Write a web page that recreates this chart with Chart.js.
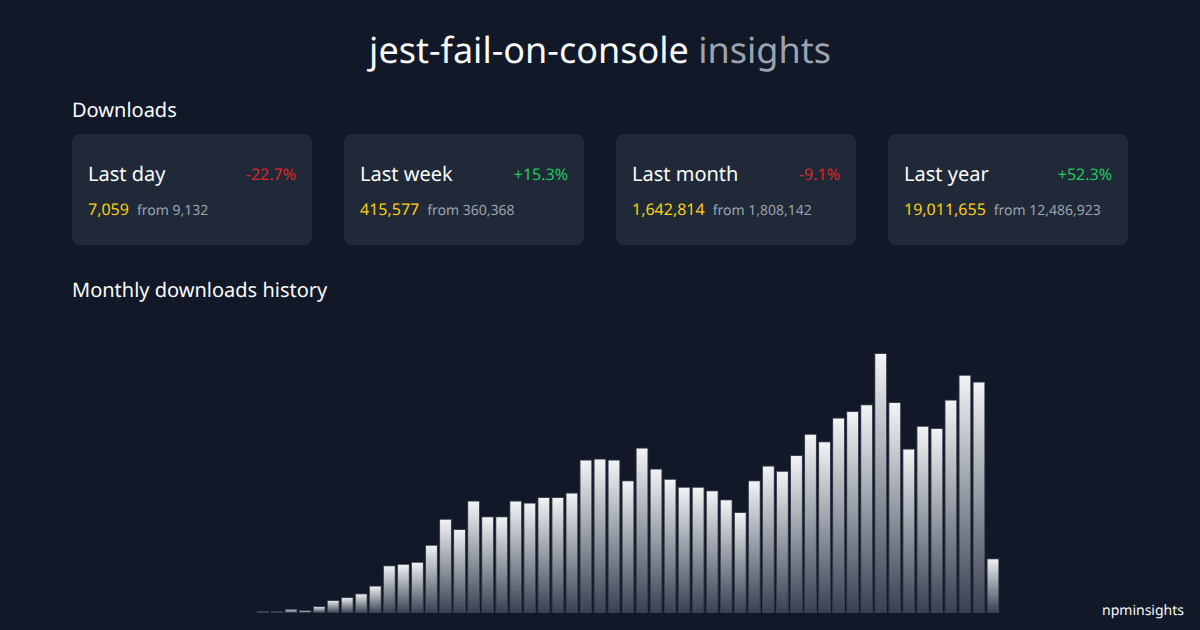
<!DOCTYPE html>
<html>
<head>
<meta charset="utf-8">
<title>jest-fail-on-console insights</title>
<script src="https://cdn.jsdelivr.net/npm/chart.js@4"></script>
<style>
    html, body { margin: 0; padding: 0; }
    body {
        width: 1200px;
        height: 630px;
        position: relative;
        overflow: hidden;
        background: #111827;
        color: #f9fafb;
        font-family: "Noto Sans", sans-serif;
        text-rendering: geometricPrecision;
    }
    .abs { position: absolute; white-space: nowrap; }
    h1 {
        position: absolute;
        left: 0;
        width: 1200px;
        top: 24px;
        margin: 0;
        text-align: center;
        font-size: 36px;
        line-height: 52px;
        font-weight: 400;
    }
    h1 span { color: #9ca3af; }
    h2 {
        position: absolute;
        left: 72px;
        margin: 0;
        font-size: 20px;
        line-height: 28px;
        font-weight: 400;
    }
    .card {
        position: absolute;
        top: 134px;
        width: 240px;
        height: 111px;
        border-radius: 8px;
        background: #1f2937;
    }
    .card .name { left: 16px; top: 26px; font-size: 20px; line-height: 28px; }
    .card .pct { right: 16px; top: 29px; font-size: 16px; line-height: 22px; }
    .card .now { left: 16px; top: 64px; font-size: 16px; line-height: 22px; color: #facc15; }
    .up { color: #22c55e; }
    .down { color: #dc2626; }
    #chartBox { position: absolute; left: 256px; top: 339px; width: 744px; height: 274px; }
    #brand { right: 16px; top: 601px; font-size: 14px; line-height: 20px; }
</style>
</head>
<body>
<h1>jest-fail-on-console <span>insights</span></h1>
<h2 style="top:96px">Downloads</h2>
<div id="cards"></div>
<h2 style="top:276px">Monthly downloads history</h2>
<div id="chartBox"><canvas id="chart" width="744" height="274"></canvas></div>
<div id="brand" class="abs">npminsights</div>

<script>
const periods = ["Last day", "Last week", "Last month", "Last year"];
const changes = ["-22.7%", "+15.3%", "-9.1%", "+52.3%"];
const current = ["7,059", "415,577", "1,642,814", "19,011,655"];
const previous = ["9,132", "360,368", "1,808,142", "12,486,923"];

// monthly downloads
const monthly = [
    14220, 14220, 30810, 21330, 49770, 92430, 113760, 139830, 194340, 338910,
    348390, 362610, 483480, 668340, 594870, 796320, 684930, 684930, 796320, 782100,
    822390, 822390, 853200, 1087830, 1094940, 1087830, 940890, 1173150, 1023840, 950370,
    893490, 893490, 869790, 805800, 715740, 940890, 1045170, 1007250, 1118640, 1270320,
    1215810, 1384080, 1431480, 1478880, 1841490, 1495470, 1166040, 1327200, 1310610, 1512060,
    1687440, 1640040, 388680
];
const months = monthly.map((v, i) => i + 1); // the picture has no month labels
const yMax = 1941000;

function buildCards() {
    const el = document.getElementById("cards");
    periods.forEach((name, i) => {
        const cls = changes[i][0] === "+" ? "up" : "down";
        el.innerHTML += `
            <div class="card" style="left:${72 + i * 272}px">
                <div class="abs name">${name}</div>
                <div class="abs pct ${cls}">${changes[i]}</div>
                <div class="abs now">${current[i]}<span style="font-size:14px;color:#9ca3af;margin-left:8px">from ${previous[i]}</span></div>
            </div>
        `;
    });
}

function barFill(context) {
    const chart = context.chart;
    const value = context.raw;
    const scale = chart.scales.y;
    if (!scale || value === undefined) return "#f3f4f6";
    const top = scale.getPixelForValue(value);
    const bottom = scale.getPixelForValue(0);
    if (!Number.isFinite(top) || !Number.isFinite(bottom)) return "#f3f4f6";
    const g = chart.ctx.createLinearGradient(0, top, 0, bottom);
    g.addColorStop(0, "#f3f4f6");
    g.addColorStop(1, "#374151");
    return g;
}

buildCards();

new Chart(document.getElementById("chart"), {
    type: "bar",
    data: {
        labels: months,
        datasets: [{
            data: monthly,
            backgroundColor: barFill,
            borderColor: "#374151",
            borderWidth: 1,
            borderSkipped: false,
            barPercentage: 0.92,
            categoryPercentage: 1
        }]
    },
    options: {
        responsive: false,
        animation: false,
        plugins: { legend: { display: false }, tooltip: { enabled: false } },
        scales: {
            x: { display: false },
            y: { display: false, min: 0, max: yMax }
        }
    }
});
</script>
</body>
</html>
